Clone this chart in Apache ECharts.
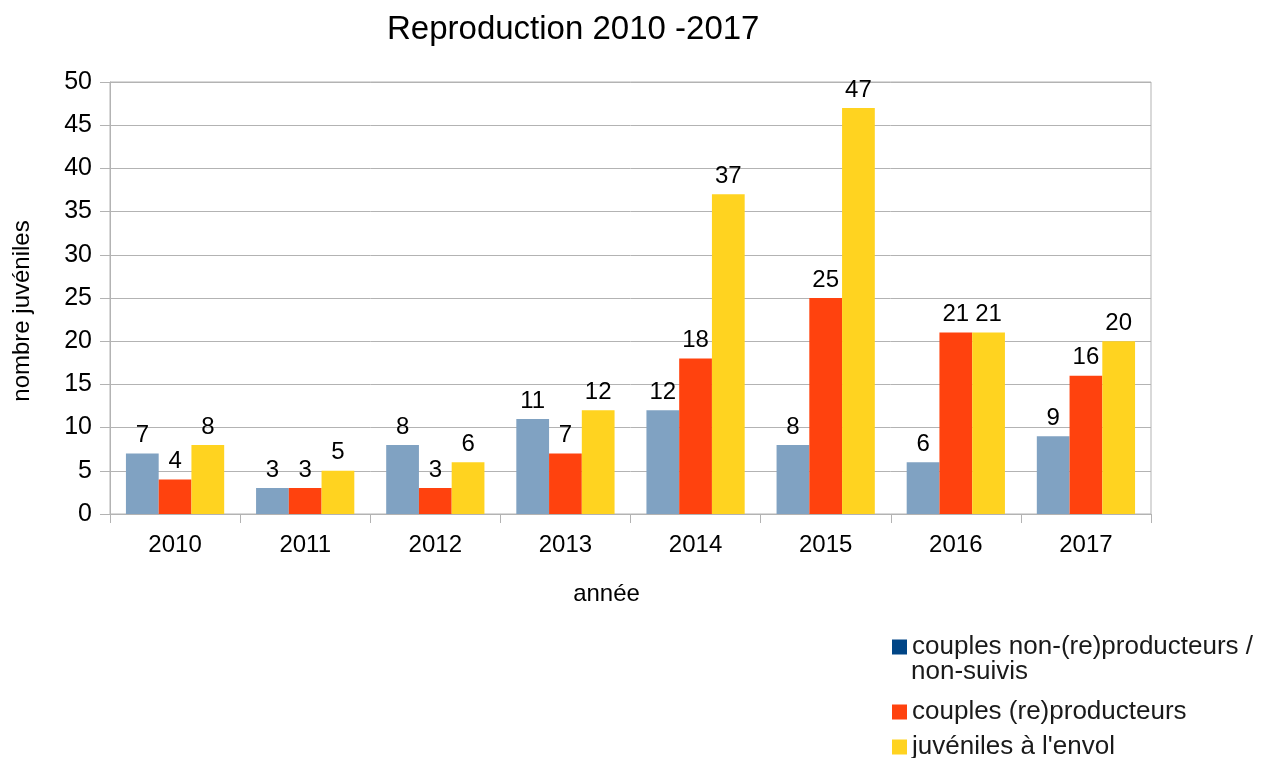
<!DOCTYPE html>
<html>
<head>
<meta charset="utf-8">
<script src="https://cdn.jsdelivr.net/npm/echarts@6/dist/echarts.min.js"></script>
<style>
html,body{margin:0;padding:0;background:#fff;}
#c{width:1278px;height:758px;}
</style>
</head>
<body>
<div id="c"></div>
<script>
var categories = ['2010','2011','2012','2013','2014','2015','2016','2017'];
var nonProducteurs = [7,3,8,11,12,8,6,9];
var producteurs = [4,3,3,7,18,25,21,16];
var juveniles = [8,5,6,12,37,47,21,20];
var seriesNames = ['couples non-(re)producteurs / non-suivis','couples (re)producteurs',"juvéniles à l'envol"];
var legendColors = ['#004586','#ff420e','#ffd320'];

var FONT = '"Liberation Sans", Arial, sans-serif';
var chart = echarts.init(document.getElementById('c'));
var lbl = {show:true, position:'top', distance:6, fontSize:24, color:'#000', fontFamily:FONT};
function mkLegend(i, top, fmt){
  return {
    orient:'vertical', left:887, top:top, itemWidth:15, itemHeight:15,
    icon:'rect',
    textStyle:{fontSize:26, color:'#1a1a1a', fontFamily:FONT, lineHeight:28},
    formatter: fmt,
    data:[{name:seriesNames[i], itemStyle:{color:legendColors[i]}}]
  };
}
chart.setOption({
  animation:false,
  textStyle:{fontFamily:FONT},
  title:{text:'Reproduction 2010 -2017', left:382, top:8, textStyle:{fontSize:33, fontWeight:'normal', color:'#000', fontFamily:FONT}},
  grid:{left:110, right:127, top:82, bottom:244, show:true, borderColor:'#b3b3b3', borderWidth:1},
  legend:[
    mkLegend(0, 628, function(){ return 'couples non-(re)producteurs /'; }),
    mkLegend(1, 693),
    mkLegend(2, 728)
  ],
  graphic:[{
    type:'text', left:911, top:659,
    style:{text:'non-suivis', fontSize:26, fill:'#1a1a1a', fontFamily:FONT}
  }],
  xAxis:{
    type:'category', data:categories,
    name:'année', nameLocation:'middle', nameGap:68,
    nameTextStyle:{fontSize:24, color:'#000', fontFamily:FONT, padding:[0,48,0,0]},
    axisLine:{lineStyle:{color:'#b3b3b3'}},
    axisTick:{show:true, length:9, lineStyle:{color:'#b3b3b3'}},
    axisLabel:{fontSize:24, color:'#000', margin:19, fontFamily:FONT}
  },
  yAxis:{
    type:'value', min:0, max:50, interval:5,
    name:'nombre juvéniles', nameLocation:'middle', nameGap:76,
    nameTextStyle:{fontSize:24, color:'#000', fontFamily:FONT, padding:[0,26,0,0]},
    axisLine:{show:true, lineStyle:{color:'#b3b3b3'}},
    axisTick:{show:true, length:10, lineStyle:{color:'#b3b3b3'}},
    splitLine:{lineStyle:{color:'#b3b3b3'}},
    axisLabel:{fontSize:25, color:'#000', margin:18, fontFamily:FONT}
  },
  series:[
    {name:seriesNames[0], type:'bar', data:nonProducteurs, barGap:'0%', barCategoryGap:'24.5%', itemStyle:{color:'#80a2c2'}, label:lbl},
    {name:seriesNames[1], type:'bar', data:producteurs, barGap:'0%', barCategoryGap:'24.5%', itemStyle:{color:'#ff420e'}, label:lbl},
    {name:seriesNames[2], type:'bar', data:juveniles, barGap:'0%', barCategoryGap:'24.5%', itemStyle:{color:'#ffd320'}, label:lbl}
  ]
});
</script>
</body>
</html>
